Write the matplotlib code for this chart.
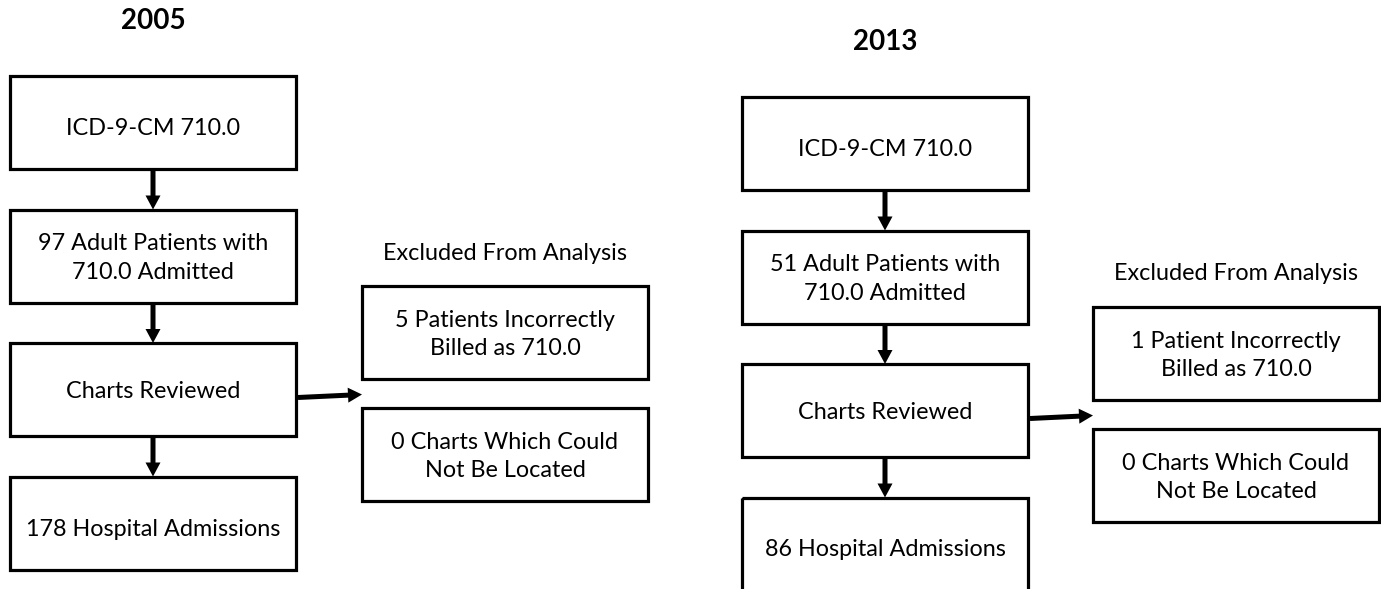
import matplotlib
matplotlib.use("Agg")
import matplotlib.pyplot as plt
from matplotlib.patches import Rectangle, FancyArrow

plt.rcParams["font.family"] = ["Lato", "DejaVu Sans"]

# ── content ──────────────────────────────────────────────────────────────────
years = ["2005", "2013"]
flow_2005 = ["ICD-9-CM 710.0", "97 Adult Patients with\n710.0 Admitted",
             "Charts Reviewed", "178 Hospital Admissions"]
flow_2013 = ["ICD-9-CM 710.0", "51 Adult Patients with\n710.0 Admitted",
             "Charts Reviewed", "86 Hospital Admissions"]
excl_title = "Excluded From Analysis"
excl_2005 = ["5 Patients Incorrectly\nBilled as 710.0",
             "0 Charts Which Could\nNot Be Located"]
excl_2013 = ["1 Patient Incorrectly\nBilled as 710.0",
             "0 Charts Which Could\nNot Be Located"]

# ── layout (pixel coordinates, y down) ───────────────────────────────────────
W, H = 1381, 589
BOX_W, BOX_H = 286, 93
STEP = 133.5
LW = 2.3
FS = 16.8

fig = plt.figure(figsize=(W / 100, H / 100), dpi=100)
ax = fig.add_axes([0, 0, 1, 1])
ax.set_xlim(0, W); ax.set_ylim(H, 0); ax.axis("off")


def box(x, y, text, dy=2):
    ax.add_patch(Rectangle((x, y), BOX_W, BOX_H, fill=False, ec="black", lw=LW))
    ax.text(x + BOX_W / 2, y + BOX_H / 2 + dy, text, ha="center", va="center",
            fontsize=FS, linespacing=1.45)


def arrow(x0, y0, dx, dy):
    ax.add_patch(FancyArrow(x0, y0, dx, dy, width=5, head_width=15, head_length=14,
                            length_includes_head=True, color="black", lw=0))


def panel(x, y, year, flow, excl, ex_x, ex_y):
    ax.text(x + BOX_W / 2, y - 55, year, ha="center", va="center",
            fontsize=20, fontweight="bold")
    for i, t in enumerate(flow):
        by = y + i * STEP
        box(x, by, t, dy=6 if i in (0, 3) else 2)
        if i < len(flow) - 1:
            arrow(x + BOX_W / 2, by + BOX_H, 0, STEP - BOX_H)
    mid = y + 2 * STEP + BOX_H / 2
    arrow(x + BOX_W + 2, mid + 8, ex_x - x - BOX_W - 2, -3)
    ax.text(ex_x + BOX_W / 2, ex_y - 33, excl_title, ha="center", va="center", fontsize=FS)
    for j, t in enumerate(excl):
        box(ex_x, ex_y + j * 122, t)


panel(10, 76, years[0], flow_2005, excl_2005, 362, 286)
panel(742, 97, years[1], flow_2013, excl_2013, 1093, 307)

fig.savefig("out.png", dpi=100)
